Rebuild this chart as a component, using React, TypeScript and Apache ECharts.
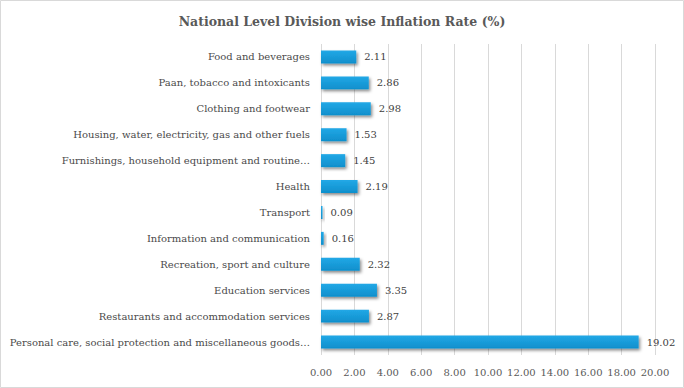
import React, { useEffect, useRef } from "react";
import * as echarts from "echarts";

const categories = [
  "Food and beverages",
  "Paan, tobacco and intoxicants",
  "Clothing and footwear",
  "Housing, water, electricity, gas and other fuels",
  "Furnishings, household equipment and routine…",
  "Health",
  "Transport",
  "Information and communication",
  "Recreation, sport and culture",
  "Education services",
  "Restaurants and accommodation services",
  "Personal care, social protection and miscellaneous goods…",
];
const values = [2.11, 2.86, 2.98, 1.53, 1.45, 2.19, 0.09, 0.16, 2.32, 3.35, 2.87, 19.02];
const titleText = "National Level Division wise Inflation Rate (%)";

const FONT = "'DejaVu Serif', serif";

export default function App() {
  const ref = useRef<HTMLDivElement>(null);
  useEffect(() => {
    document.body.style.margin = "0";
    const chart = echarts.init(ref.current!, null, { renderer: "svg" });
    chart.setOption({
      animation: false,
      backgroundColor: "#ffffff",
      title: {
        text: titleText,
        left: "center",
        top: 10,
        textStyle: { fontFamily: FONT, fontSize: 12.5, fontWeight: "bold", color: "#595959" },
      },
      graphic: [
        {
          type: "rect",
          shape: { x: 0.5, y: 0.5, width: 683, height: 387 },
          style: { fill: "none", stroke: "#d9d9d9", lineWidth: 1 },
          silent: true,
        },
      ],
      grid: { left: 321, right: 29, top: 44, bottom: 33, containLabel: false },
      xAxis: {
        type: "value",
        min: 0,
        max: 20,
        interval: 2,
        axisLine: { show: false },
        axisTick: { show: false },
        splitLine: { show: true, lineStyle: { color: "#d9d9d9", width: 1 } },
        axisLabel: {
          fontFamily: FONT,
          fontSize: 10,
          color: "#595959",
          margin: 12,
          formatter: (v: number) => v.toFixed(2),
        },
      },
      yAxis: {
        type: "category",
        inverse: true,
        data: categories,
        axisLine: { show: false },
        axisTick: { show: false },
        axisLabel: { fontFamily: FONT, fontSize: 10, color: "#4a4a4a", margin: 11 },
      },
      series: [
        {
          type: "bar",
          data: values,
          barWidth: "50%",
          itemStyle: {
            color: new echarts.graphic.LinearGradient(0, 0, 0, 1, [
              { offset: 0, color: "#22a8e6" },
              { offset: 1, color: "#0f8fcc" },
            ]),
            shadowColor: "rgba(0,0,0,0.45)",
            shadowBlur: 3,
            shadowOffsetX: 1.5,
            shadowOffsetY: 2,
          },
          label: {
            show: true,
            position: "right",
            distance: 8,
            fontFamily: FONT,
            fontSize: 10,
            color: "#404040",
            formatter: (p: any) => p.value.toFixed(2),
          },
        },
      ],
    });
    return () => chart.dispose();
  }, []);
  return <div ref={ref} style={{ width: 684, height: 388 }} />;
}
